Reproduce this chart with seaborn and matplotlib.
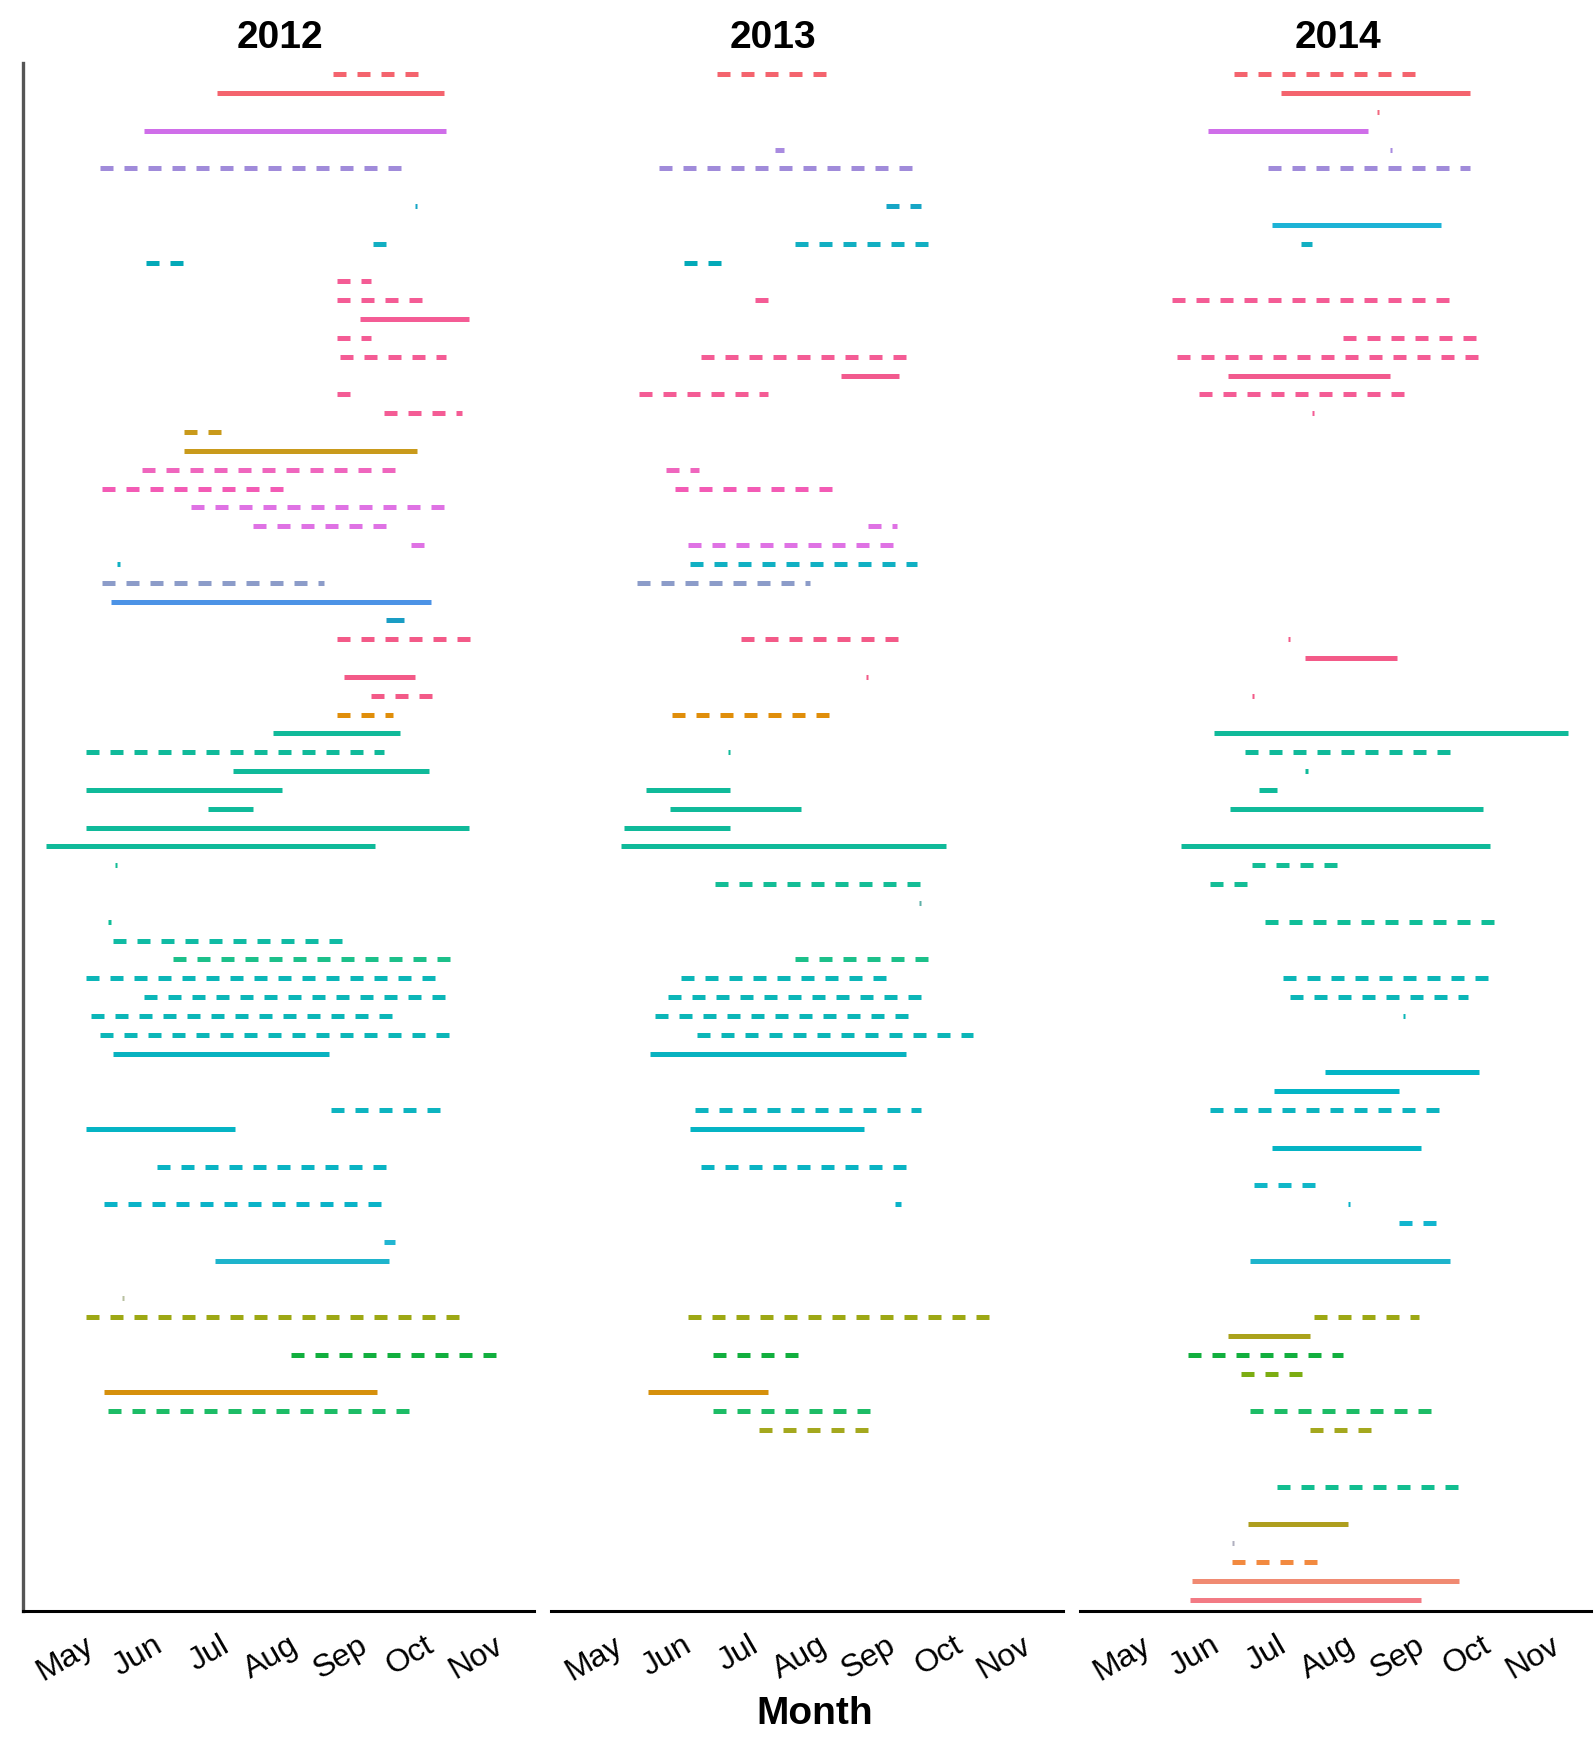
import matplotlib
matplotlib.use("Agg")
import matplotlib.pyplot as plt
import pandas as pd
import seaborn as sns

# ==========================================
# DATA (dates as MM-DD)
# ==========================================
years = ["2012", "2013", "2014"]
month_ticks = ["05-01", "06-01", "07-01", "08-01", "09-01", "10-01", "11-01"]
month_labels = ["May", "Jun", "Jul", "Aug", "Sep", "Oct", "Nov"]
n_rows = 82  # rows counted from the top (0) to the bottom (81)

# S = solid, D = dashed
rows_2012 = [0, 1, 3, 5, 7, 9, 10, 11, 12, 13, 14, 15, 17, 18, 19, 20, 21, 22, 23, 24,
             25, 26, 27, 28, 29, 30, 32, 33, 34, 35, 36, 37, 38, 39, 40, 41, 42, 45, 46, 47,
             48, 49, 50, 51, 52, 55, 56, 58, 60, 62, 63, 65, 66, 68, 70, 71]
start_2012 = ["08-21", "06-30", "05-28", "05-08", "09-27", "09-08", "05-29", "08-23", "08-23", "09-02",
              "08-23", "08-24", "08-23", "09-13", "06-15", "06-15", "05-27", "05-09", "06-18", "07-16",
              "09-25", "05-16", "05-09", "05-13", "09-14", "08-23", "08-26", "09-07", "08-23", "07-25",
              "05-02", "07-07", "05-02", "06-26", "05-02", "04-14", "05-15", "05-12", "05-14", "06-10",
              "05-02", "05-28", "05-04", "05-08", "05-14", "08-20", "05-02", "06-03", "05-10", "09-13",
              "06-29", "05-18", "05-02", "08-02", "05-10", "05-12"]
end_2012 = ["09-30", "10-10", "10-11", "09-24", "09-28", "09-14", "06-16", "09-07", "09-30", "10-21",
            "09-07", "10-11", "08-29", "10-18", "07-02", "09-28", "09-20", "08-01", "10-11", "09-14",
            "10-01", "05-17", "08-17", "10-04", "09-22", "10-24", "09-27", "10-06", "09-17", "09-20",
            "09-13", "10-03", "07-29", "07-16", "10-21", "09-09", "05-16", "05-13", "08-26", "10-16",
            "10-11", "10-11", "09-20", "10-13", "08-19", "10-08", "07-08", "09-15", "09-15", "09-18",
            "09-15", "05-19", "10-19", "11-05", "09-10", "09-27"]
type_2012 = list("DSSDSSDDDSDDDDDSDDDDSSDSSDSDDSDSSSSSSSDDDDDDSDSDDSSSDDSD")

rows_2013 = [0, 4, 5, 7, 9, 10, 12, 15, 16, 17, 21, 22, 24, 25, 26, 27, 30, 32, 34, 36,
             38, 39, 40, 41, 43, 44, 47, 48, 49, 50, 51, 52, 55, 56, 58, 60, 66, 68, 70, 71, 72]
start_2013 = ["06-17", "07-13", "05-22", "09-01", "07-22", "06-02", "07-04", "06-10", "08-12", "05-13",
              "05-25", "05-29", "08-24", "06-04", "06-05", "05-12", "06-28", "08-23", "05-28", "06-22",
              "05-16", "05-27", "05-06", "05-05", "06-16", "09-16", "07-22", "06-01", "05-26", "05-20",
              "06-08", "05-18", "06-07", "06-05", "06-10", "09-05", "06-04", "06-15", "05-17", "06-15",
              "07-06"]
end_2013 = ["08-07", "07-17", "09-16", "09-17", "09-21", "06-20", "07-10", "09-13", "09-07", "07-10",
            "06-09", "08-10", "09-06", "09-07", "09-15", "07-29", "09-09", "08-24", "08-09", "06-23",
            "06-23", "07-25", "06-23", "09-28", "09-20", "09-17", "09-20", "09-04", "09-17", "09-15",
            "10-10", "09-10", "09-17", "08-22", "09-14", "09-08", "10-22", "07-24", "07-10", "08-26",
            "08-26"]
type_2013 = list("DSDDDDSDSDDDDDDDDSDSSSSSDSDDDDDSDSDSDDSDD")

rows_2014 = [0, 1, 2, 3, 4, 5, 8, 9, 12, 14, 15, 16, 17, 18, 30, 31, 33, 35, 36, 37,
             38, 39, 41, 42, 43, 45, 48, 49, 50, 53, 54, 55, 57, 59, 60, 61, 63, 66, 67, 68,
             69, 71, 72, 75, 77, 78, 79, 80, 81]
start_2014 = ["06-12", "07-03", "08-15", "05-31", "08-21", "06-27", "06-29", "07-12", "05-15", "07-31",
              "05-17", "06-09", "05-27", "07-17", "07-06", "07-14", "06-20", "06-03", "06-17", "07-14",
              "06-23", "06-10", "05-19", "06-20", "06-01", "06-26", "07-04", "07-07", "08-27", "07-23",
              "06-30", "06-01", "06-29", "06-21", "08-02", "08-25", "06-19", "07-18", "06-09", "05-22",
              "06-15", "06-19", "07-16", "07-01", "06-18", "06-11", "06-11", "05-24", "05-23"]
end_2014 = ["09-04", "09-26", "08-16", "08-11", "08-22", "09-26", "09-13", "07-17", "09-19", "10-01",
            "10-01", "08-21", "08-30", "07-18", "07-07", "08-24", "06-21", "11-09", "09-20", "07-15",
            "07-01", "10-02", "10-05", "07-29", "06-18", "10-07", "10-04", "09-25", "08-28", "09-30",
            "08-25", "09-15", "09-04", "07-20", "08-03", "09-11", "09-17", "09-03", "07-16", "07-31",
            "07-13", "09-11", "08-13", "09-23", "08-02", "06-12", "07-20", "09-21", "09-04"]
type_2014 = list("DSSSSDSSDDDSDSSSSSDSSSSDDDDDSSSDSDSDSDSDDDDDSSDSS")

row_colors = {
    0: "#F4646E", 1: "#F4646E", 2: "#F26A80", 3: "#CF6EE9", 4: "#A98BE0", 5: "#A08BDA",
    7: "#17A6C6", 8: "#1DB3D6", 9: "#12AFC2", 10: "#03A9B8",
    11: "#F45C95", 12: "#F45C95", 13: "#F45C95", 14: "#F45C95", 15: "#F45C95",
    16: "#F25A8E", 17: "#F45C95", 18: "#F45C95",
    19: "#C99A1B", 20: "#C99A1B", 21: "#EF66BE", 22: "#F35BB5",
    23: "#DF72E4", 24: "#DF72E4", 25: "#DF72E4", 26: "#11B0C3", 27: "#8C9CC9",
    28: "#4C93E6", 29: "#1A9DC4", 30: "#F35A88", 31: "#F35A88", 32: "#F35A88",
    33: "#F35A88", 34: "#E08E0A", 35: "#10BA9A", 36: "#10BA9A", 37: "#10BA9A",
    38: "#10BA9A", 39: "#10BA9A", 40: "#10BA9A", 41: "#10BA9A", 42: "#14BD96",
    43: "#14BD96", 44: "#5FB0A8", 45: "#10BE98", 46: "#10BBA4", 47: "#1CC08A",
    48: "#0CB6B8", 49: "#0CB6B8", 50: "#0CB6B8", 51: "#0CB6B8", 52: "#08B2C0",
    53: "#03B5C6", 54: "#03B5C6", 55: "#0DB4C0", 56: "#05B4C4", 57: "#05B4C4",
    58: "#0AB4C4", 59: "#10B7C8", 60: "#0AB3C8", 61: "#12B5CE", 62: "#22B6D2",
    63: "#1EB4CC", 65: "#B8C0A0", 66: "#9DA814", 67: "#AAA21C", 68: "#12AF3E",
    69: "#7CAD12", 70: "#D6900C", 71: "#1DBC66", 72: "#A4A81E", 75: "#12BE90",
    77: "#AE9E1E", 78: "#B0B0C0", 79: "#F28A40", 80: "#F08A72", 81: "#F27A84",
}

# ==========================================
# BUILD LONG-FORM TABLE (two points per segment)
# ==========================================
series = {
    "2012": (rows_2012, start_2012, end_2012, type_2012),
    "2013": (rows_2013, start_2013, end_2013, type_2013),
    "2014": (rows_2014, start_2014, end_2014, type_2014),
}
records = []
for yr, (rows, starts, ends, kinds) in series.items():
    for i, (r, s, e, k) in enumerate(zip(rows, starts, ends, kinds)):
        for d in (s, e):
            # common dummy year so all panels share one month axis
            records.append({"year": yr, "seg": f"{yr}_{i}", "row": r, "rowkey": str(r),
                            "date": pd.Timestamp(f"2000-{d}"), "kind": k})
df = pd.DataFrame(records)
palette = {str(r): c for r, c in row_colors.items()}

lo, hi = df["date"].min(), df["date"].max()
pad = (hi - lo) * 0.05

# ==========================================
# PLOT
# ==========================================
sns.set_style("white")
plt.rcParams["font.family"] = ["Liberation Sans", "DejaVu Sans"]

fig, axes = plt.subplots(1, 3, figsize=(15.95, 17.51), dpi=100, sharex=True, sharey=True)
fig.subplots_adjust(left=0.0144, right=0.9975, bottom=0.08, top=0.964, wspace=0.034)

title_x = [0.502, 0.433, 0.504]  # strip titles are not centred the same way in the original

for i, (ax, yr) in enumerate(zip(axes, years)):
    sub = df[df["year"] == yr]
    sns.lineplot(data=sub, x="date", y="row", hue="rowkey", style="kind", units="seg",
                 estimator=None, palette=palette, dashes={"S": "", "D": (2.6, 2.2)},
                 linewidth=3.6, legend=False, ax=ax,
                 solid_capstyle="butt", dash_capstyle="butt")
    ax.set_xlim(lo - pad, hi + pad)
    ax.set_ylim(n_rows - 1 + 0.6, -0.6)
    ax.set_title(yr, fontsize=28, fontweight="bold", pad=11, color="black")
    ax.title.set_x(title_x[i])
    ax.set_xlabel("")
    ax.set_ylabel("")
    ax.set_yticks([])
    ax.set_xticks(pd.to_datetime([f"2000-{m}" for m in month_ticks]))
    ax.set_xticklabels(month_labels, rotation=30, ha="right", va="top",
                       rotation_mode="anchor", fontsize=23, color="black")
    ax.tick_params(axis="x", length=7, width=2, color="#333333", pad=7)
    for side in ["top", "right"]:
        ax.spines[side].set_visible(False)
    ax.spines["bottom"].set_linewidth(2.2)
    ax.spines["bottom"].set_color("black")
    if i == 0:
        ax.spines["left"].set_linewidth(2.4)
        ax.spines["left"].set_color("#555555")
    else:
        ax.spines["left"].set_visible(False)

fig.text(0.5105, 0.0211, "Month", ha="center", va="center", fontsize=28,
         fontweight="bold", color="black")

plt.savefig("out.png", dpi=100)
